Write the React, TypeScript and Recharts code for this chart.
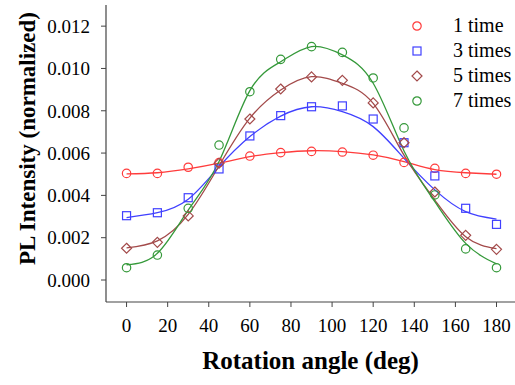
import { ComposedChart, Line, Scatter, XAxis, YAxis } from 'recharts'

// measured angles (deg)
const angles = [0, 15, 30, 45, 60, 75, 90, 105, 120, 135, 150, 165, 180]

const pts1 = [0.00504, 0.00504, 0.00533, 0.00555, 0.00586, 0.00602, 0.00608, 0.00605, 0.0059, 0.00556, 0.00528, 0.00504, 0.005]
const pts3 = [0.00304, 0.00318, 0.00389, 0.00525, 0.00681, 0.00777, 0.00819, 0.00823, 0.00761, 0.00649, 0.00492, 0.00339, 0.00263]
const pts5 = [0.0015, 0.00178, 0.00303, 0.00552, 0.00761, 0.00903, 0.0096, 0.00944, 0.00837, 0.00649, 0.00416, 0.00211, 0.00145]
const pts7 = [0.00058, 0.00118, 0.00339, 0.00638, 0.0089, 0.01043, 0.01103, 0.01076, 0.00955, 0.00719, 0.00402, 0.00147, 0.00058]

// fitted curves, sampled off the figure at the same angles
const fit1 = [0.00502, 0.00507, 0.00525, 0.00552, 0.00583, 0.00602, 0.00611, 0.00607, 0.00591, 0.0056, 0.00522, 0.00507, 0.005]
const fit3 = [0.00295, 0.00318, 0.00382, 0.00535, 0.00678, 0.00775, 0.00819, 0.00796, 0.00725, 0.00575, 0.00426, 0.00323, 0.00288]
const fit5 = [0.00152, 0.00185, 0.0031, 0.0054, 0.00765, 0.00898, 0.00961, 0.0093, 0.00835, 0.0059, 0.00378, 0.00205, 0.00148]
const fit7 = [0.00072, 0.00126, 0.0033, 0.0056, 0.00895, 0.01032, 0.01103, 0.01064, 0.0093, 0.0061, 0.0037, 0.00173, 0.00076]

const seriesNames = ['1 time', '3 times', '5 times', '7 times']
const xTicks = [0, 20, 40, 60, 80, 100, 120, 140, 160, 180]
const yTicks = [0, 0.002, 0.004, 0.006, 0.008, 0.01, 0.012]

const colors = ['#ff3c3c', '#4040ff', '#a34a4a', '#35993a']
const kinds = ['circle', 'square', 'diamond', 'circle']
const FONT = '"Liberation Serif", "Times New Roman", serif'

const toRows = (ys: number[]) => angles.map((x, i) => ({ x, y: ys[i] }))
const pointSets = [pts1, pts3, pts5, pts7].map(toRows)
const fitSets = [fit1, fit3, fit5, fit7].map(toRows)

function Marker({ kind, cx, cy, color }: { kind: string; cx: number; cy: number; color: string }) {
  const common = { fill: 'none', stroke: color, strokeWidth: 1.2 }
  if (kind === 'square') return <rect x={cx - 4} y={cy - 4} width={8} height={8} {...common} />
  if (kind === 'diamond')
    return <path d={`M${cx},${cy - 5}L${cx + 5},${cy}L${cx},${cy + 5}L${cx - 5},${cy}Z`} {...common} />
  return <circle cx={cx} cy={cy} r={4.2} {...common} />
}

function YTitle(props: any) {
  const { x, y, height } = props.viewBox
  const cx = x + 27
  const cy = y + height / 2 - 15
  return (
    <text x={cx} y={cy} transform={`rotate(-90 ${cx} ${cy})`} textAnchor="middle" dominantBaseline="central"
      fontFamily={FONT} fontWeight="bold" fontSize={23} fill="#000">
      PL Intensity (normalized)
    </text>
  )
}

export default function App() {
  return (
    <div style={{ position: 'absolute', left: 0, top: 0, width: 515, height: 385, background: '#fff', fontFamily: FONT }}>
      <ComposedChart width={515} height={385} margin={{ top: 5, right: 0, bottom: 0, left: 0 }}>
        <XAxis xAxisId="top" orientation="top" type="number" dataKey="x" domain={[-10, 189]} allowDataOverflow
          height={0} tick={false} tickLine={false} axisLine={{ stroke: '#9a9a9a', strokeWidth: 1.5 }} />
        <XAxis type="number" dataKey="x" domain={[-10, 189]} allowDataOverflow ticks={xTicks} height={83}
          tickSize={5} tickMargin={12} interval={0}
          tick={{ fontFamily: FONT, fontSize: 19, fill: '#000' }}
          tickLine={{ stroke: '#444' }} axisLine={{ stroke: '#444', strokeWidth: 1.2 }}
          label={{ value: 'Rotation angle (deg)', position: 'insideBottom', offset: 16, fontFamily: FONT, fontSize: 25, fontWeight: 'bold', fill: '#000' }} />
        <YAxis type="number" dataKey="y" domain={[-0.00104, 0.013]} allowDataOverflow ticks={yTicks} width={106}
          tickSize={5} tickMargin={11} interval={0} tickFormatter={(v: number) => v.toFixed(3)}
          tick={{ fontFamily: FONT, fontSize: 19, fill: '#000' }}
          tickLine={{ stroke: '#444' }} axisLine={{ stroke: '#444', strokeWidth: 1.2 }}
          label={<YTitle />} />
        {fitSets.map((rows, i) => (
          <Line key={'fit' + i} data={rows} dataKey="y" type="natural" stroke={colors[i]} strokeWidth={1.3}
            dot={false} activeDot={false} isAnimationActive={false} />
        ))}
        {pointSets.map((rows, i) => (
          <Scatter key={'pts' + i} data={rows} dataKey="y" isAnimationActive={false}
            shape={(p: any) => <Marker kind={kinds[i]} cx={p.cx} cy={p.cy} color={colors[i]} />} />
        ))}
      </ComposedChart>
      <div style={{ position: 'absolute', left: 410, top: 13 }}>
        {seriesNames.map((name, i) => (
          <div key={name} style={{ display: 'flex', alignItems: 'center', height: 25 }}>
            <svg width={14} height={14} style={{ marginRight: 29 }}>
              <Marker kind={kinds[i]} cx={7} cy={7} color={colors[i]} />
            </svg>
            <span style={{ fontSize: 20, color: '#000', lineHeight: '25px' }}>{name}</span>
          </div>
        ))}
      </div>
    </div>
  )
}
